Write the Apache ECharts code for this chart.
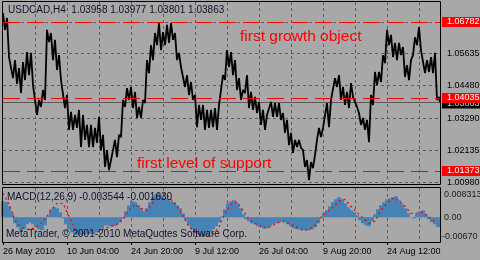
<!DOCTYPE html>
<html>
<head>
<meta charset="utf-8">
<script src="https://cdn.jsdelivr.net/npm/echarts@6/dist/echarts.min.js"></script>
<style>
  html, body { margin: 0; padding: 0; background: #a8a8a8; }
  #chart { width: 480px; height: 260px; }
</style>
</head>
<body>
<div id="chart"></div>
<script>
// USDCAD H4 with MACD(12,26,9), MetaTrader style
var symbol = 'USDCAD,H4';
var ohlc = ['1.03958', '1.03977', '1.03801', '1.03863'];
var macdTitle = 'MACD(12,26,9) -0.003544 -0.001630';
var copyright = 'MetaTrader, \u00a9 2001-2010 MetaQuotes Software Corp.';

// time axis: one H4 bar per step, label every 64 bars, grid every 32
var tickLabels = ['26 May 2010', '10 Jun 04:00', '24 Jun 20:00', '9 Jul 12:00',
                  '26 Jul 04:00', '9 Aug 20:00', '24 Aug 12:00'];
var vGrid = [32, 64, 96, 128, 160, 192, 224, 256, 288, 320, 352, 384, 416];
var barCount = 438;

// price, sampled every 2 bars (alternating highs/lows)
var priceStep = 2;
var prices = [
  1.0709,1.0648,1.0691,1.0550,1.0557,1.0474,1.0539,1.0453,1.0510,1.0420,
  1.0532,1.0467,1.0568,1.0485,1.0565,1.0449,1.0456,1.0341,1.0395,1.0370,
  1.0431,1.0395,1.0648,1.0604,1.0637,1.0539,1.0612,1.0503,1.0557,1.0467,
  1.0467,1.0366,1.0413,1.0287,1.0352,1.0287,1.0341,1.0294,1.0359,1.0225,
  1.0341,1.0251,1.0305,1.0225,1.0305,1.0225,1.0294,1.0240,1.0334,1.0214,
  1.0269,1.0153,1.0214,1.0142,1.0178,1.0178,1.0251,1.0189,1.0269,1.0261,
  1.0395,1.0370,1.0438,1.0395,1.0442,1.0366,1.0424,1.0330,1.0370,1.0330,
  1.0395,1.0384,1.0539,1.0492,1.0593,1.0539,1.0637,1.0593,1.0673,1.0575,
  1.0640,1.0593,1.0666,1.0601,1.0673,1.0612,1.0637,1.0539,1.0565,1.0514,
  1.0521,1.0442,1.0485,1.0413,1.0460,1.0395,1.0413,1.0297,1.0377,1.0323,
  1.0377,1.0287,1.0359,1.0294,1.0359,1.0297,1.0366,1.0287,1.0377,1.0370,
  1.0485,1.0467,1.0575,1.0514,1.0568,1.0485,1.0539,1.0431,1.0474,1.0395,
  1.0431,1.0420,1.0485,1.0366,1.0424,1.0359,1.0406,1.0348,1.0388,1.0305,
  1.0359,1.0287,1.0341,1.0334,1.0388,1.0334,1.0384,1.0334,1.0384,1.0323,
  1.0348,1.0276,1.0323,1.0232,1.0276,1.0204,1.0251,1.0225,1.0251,1.0222,
  1.0214,1.0153,1.0178,1.0106,1.0171,1.0149,1.0196,1.0251,1.0294,1.0261,
  1.0294,1.0287,1.0384,1.0297,1.0395,1.0395,1.0474,1.0442,1.0485,1.0395,
  1.0442,1.0377,1.0424,1.0366,1.0456,1.0406,1.0413,1.0370,1.0348,1.0305,
  1.0330,1.0287,1.0323,1.0243,1.0413,1.0377,1.0496,1.0449,1.0496,1.0460,
  1.0557,1.0528,1.0648,1.0593,1.0630,1.0550,1.0601,1.0539,1.0601,1.0557,
  1.0586,1.0478,1.0521,1.0467,1.0539,1.0557,1.0622,1.0593,1.0658,1.0575,
  1.0575,1.0492,1.0539,1.0496,1.0550,1.0492,1.0565,1.0395,1.0406
];
var lastClose = 1.03863;

// price axis labels and levels
var gridLabels = ['1.06782', '1.05635', '1.04480', '1.03290', '1.02135', '1.00980'];
var levels = ['1.06782', '1.04035', '1.01373'];
var levelTexts = ['first growth object', 'first level of support'];

// MACD histogram every 3 bars, signal every 6 bars
var macdStep = 3;
var macd = [
  0.00576,0.0054,0.00396,0.00144,-0.00216,-0.0036,-0.00504,-0.00432,-0.00252,-0.0018,
  -0.00252,-0.0036,-0.00432,-0.00468,-0.00288,0.00036,0.00288,0.0036,0.00324,0.0018,
  -0.00036,-0.00252,-0.00432,-0.0054,-0.00612,-0.00648,-0.00648,-0.00612,-0.00612,-0.00576,
  -0.00576,-0.0054,-0.00468,-0.00396,-0.00288,-0.00288,-0.00324,-0.00324,-0.00252,-0.0018,
  -0.00036,0.00216,0.00432,0.00576,0.0054,0.00432,0.00324,0.00216,0.00324,0.0054,
  0.0072,0.00828,0.00864,0.00792,0.00684,0.00648,0.00576,0.0054,0.00432,0.00324,
  0.00144,-0.00108,-0.00288,-0.00432,-0.0054,-0.00612,-0.00684,-0.00684,-0.00648,-0.0054,
  -0.00432,-0.00324,-0.0018,0.00036,0.00288,0.00504,0.00576,0.00612,0.00504,0.00324,
  0.00108,-0.00072,-0.00144,-0.00216,-0.00252,-0.00324,-0.0036,-0.00396,-0.00396,-0.00324,
  -0.00252,-0.00216,-0.0018,-0.00144,-0.0018,-0.00252,-0.00324,-0.00396,-0.00432,-0.00432,
  -0.00468,-0.00468,-0.00468,-0.00432,-0.0036,-0.00216,-0.00036,0.00144,0.00252,0.00396,
  0.0054,0.00648,0.0072,0.00648,0.00504,0.0036,0.00252,0.0018,0.00072,-0.00108,
  -0.00216,-0.00288,-0.00324,-0.00144,0.00108,0.00288,0.00432,0.0054,0.00648,0.00684,
  0.0072,0.00756,0.00612,0.00468,0.00324,0.00144,0,-0.00036,0.00108,0.00216,
  0.00252,0.00108,-0.00072,-0.0018,-0.00252,-0.00354
];
var signalStep = 6;
var signal = [
  0.00864,0.00468,-0.00108,-0.0036,-0.00432,-0.00396,-0.00288,-0.00072,0.00252,0.00504,
  0.00504,0.00036,-0.00432,-0.00576,-0.00576,-0.00576,-0.00504,-0.00396,-0.00324,-0.00252,
  -0.00072,0.00252,0.00468,0.00324,0.00252,0.0054,0.00756,0.00864,0.00648,0.00396,
  0.00036,-0.00324,-0.0054,-0.00648,-0.00684,-0.00612,-0.0036,0.00144,0.00468,0.0054,
  0.00252,-0.00072,-0.00216,-0.00324,-0.00396,-0.00288,-0.0018,-0.00144,-0.00252,-0.0036,
  -0.00468,-0.00432,-0.00288,0,0.0018,0.0036,0.00576,0.00648,0.00396,0.0018,
  -0.00036,-0.00216,-0.00144,0.00252,0.00504,0.00684,0.00612,0.00396,0.00144,0.00144,
  0.0018,0,-0.00163
];
var macdLabels = ['0.008313', '0.00', '-0.00670'];

var FONT = "'Liberation Sans', Arial, sans-serif";

// horizontal line across a grid with a label on the right
function hLines(axisIdx, values, z, lineStyle, label) {
    return {
        type: 'custom', xAxisIndex: axisIdx, yAxisIndex: axisIdx, z: z, silent: true,
        data: values.map(function (s) { return [0, parseFloat(s)]; }),
        renderItem: function (params, api) {
            var cs = params.coordSys;
            var y = Math.round(api.coord([0, api.value(1)])[1]) + 0.5;
            var children = [];
            if (lineStyle) {
                children.push({ type: 'line',
                    shape: { x1: cs.x, y1: y, x2: cs.x + cs.width, y2: y },
                    style: lineStyle });
            }
            if (label) {
                var txt = values[params.dataIndex];
                var ls = Object.assign({ text: txt, font: '9px ' + FONT,
                                         verticalAlign: 'middle' }, label.style);
                var dx = label.dx - (txt.charAt(0) === '-' ? 2 : 0);
                children.push({ type: 'text', x: cs.x + cs.width + dx, y: y + (label.dy || 0), style: ls });
            }
            return { type: 'group', children: children };
        }
    };
}

// vertical grid lines through a grid
function vLines(axisIdx, yVal) {
    return {
        type: 'custom', xAxisIndex: axisIdx, yAxisIndex: axisIdx, z: 1, silent: true,
        data: vGrid.map(function (x) { return [x, yVal]; }),
        renderItem: function (params, api) {
            var cs = params.coordSys;
            var x = Math.round(api.coord([api.value(0), yVal])[0]) + 0.5;
            return { type: 'line', shape: { x1: x, y1: cs.y, x2: x, y2: cs.y + cs.height },
                     style: { stroke: '#5e5e5e', lineWidth: 1, lineDash: [3, 3] } };
        }
    };
}

function makeChart(divId) {
    var myChart = echarts.init(document.getElementById(divId));

    var priceData = prices.map(function (p, i) { return [i * priceStep, p]; });
    priceData.push([barCount - 1, lastClose]);
    var macdData = macd.map(function (v, i) { return [i * macdStep, v]; });
    var signalData = signal.map(function (v, i) { return [i * signalStep, v]; });

    var hidden = { axisLine: { show: false }, axisTick: { show: false },
                   axisLabel: { show: false }, splitLine: { show: false } };

    var option = {
        backgroundColor: '#a8a8a8',
        animation: false,
        textStyle: { fontFamily: FONT },
        grid: [
            { left: 3, top: 2, width: 438, height: 182 },
            { left: 3, top: 188, width: 438, height: 54 }
        ],
        xAxis: [
            Object.assign({ type: 'value', gridIndex: 0, min: 0, max: barCount }, hidden),
            Object.assign({ type: 'value', gridIndex: 1, min: 0, max: barCount }, hidden),
            {   // time labels
                type: 'value', gridIndex: 1, min: 0, max: barCount, interval: 64, position: 'bottom',
                axisLine: { show: false },
                splitLine: { show: false },
                axisTick: { show: true, length: 3, lineStyle: { color: '#000' } },
                axisLabel: {
                    show: true, margin: 5, align: 'left', color: '#000',
                    fontSize: 9, fontFamily: FONT, showMaxLabel: false,
                    formatter: function (v) {
                        if (v % 64 !== 0) return '';
                        return tickLabels[v / 64] || '';
                    }
                }
            }
        ],
        yAxis: [
            Object.assign({ type: 'value', gridIndex: 0, min: 1.00917, max: 1.07487 }, hidden),
            Object.assign({ type: 'value', gridIndex: 1, min: -0.008892, max: 0.010548 }, hidden)
        ],
        graphic: [
            { type: 'rect', z: 100, shape: { x: 2.5, y: 1.5, width: 438, height: 183 },
              style: { fill: 'none', stroke: '#000', lineWidth: 1 } },
            { type: 'rect', z: 100, shape: { x: 2.5, y: 187.5, width: 438, height: 55 },
              style: { fill: 'none', stroke: '#000', lineWidth: 1 } },
            { type: 'text', z: 101, x: 8, y: 10.5,
              style: { text: symbol + '  ' + ohlc.join(' '), fill: '#10102a', font: '10px ' + FONT, verticalAlign: 'middle' } },
            { type: 'text', z: 101, x: 240, y: 36.6,
              style: { text: levelTexts[0], fill: '#ff0000', font: '15.5px ' + FONT, verticalAlign: 'middle' } },
            { type: 'text', z: 101, x: 137, y: 163.6,
              style: { text: levelTexts[1], fill: '#ff0000', font: '15.5px ' + FONT, verticalAlign: 'middle' } },
            { type: 'text', z: 101, x: 7, y: 197,
              style: { text: macdTitle, fill: '#10102a', font: '10px ' + FONT, verticalAlign: 'middle' } },
            { type: 'text', z: 101, x: 6, y: 234,
              style: { text: copyright, fill: '#10102a', font: '10px ' + FONT, verticalAlign: 'middle' } }
        ],
        series: [
            vLines(0, 1.04),
            vLines(1, 0),
            hLines(0, gridLabels, 1,
                   { stroke: '#5e5e5e', lineWidth: 1, lineDash: [3, 3] },
                   { dx: 6, style: { fill: '#000' } }),
            hLines(0, [lastClose.toFixed(5)], 2,
                   { stroke: '#5a5a5a', lineWidth: 1 },
                   { dx: 1, dy: 1, style: { fill: '#c8c8c8', backgroundColor: '#000',
                                            padding: [1, 2, 0, 5], lineHeight: 9 } }),
            {   // price
                type: 'line', xAxisIndex: 0, yAxisIndex: 0, z: 3,
                data: priceData, showSymbol: false, symbol: 'none',
                lineStyle: { color: '#000', width: 1.8 }
            },
            hLines(0, levels, 4,
                   { stroke: '#ff0000', lineWidth: 1, lineDash: [17, 7] },
                   { dx: 1, dy: -0.5, style: { fill: '#fff', backgroundColor: '#ff0000',
                                               padding: [1, 2, 0, 5], lineHeight: 9 } }),
            {   // MACD histogram
                type: 'bar', xAxisIndex: 1, yAxisIndex: 1, z: 2,
                data: macdData, barWidth: 4,
                itemStyle: { color: '#4682b4' }
            },
            {   // signal
                type: 'line', xAxisIndex: 1, yAxisIndex: 1, z: 3,
                data: signalData, showSymbol: false, symbol: 'none',
                lineStyle: { color: '#ff0000', width: 1.3, type: [2, 3] }
            },
            hLines(1, macdLabels, 5, null, { dx: 3, style: { fill: '#1a1a1a' } })
        ]
    };

    myChart.setOption(option);
}

makeChart('chart');
</script>
</body>
</html>
